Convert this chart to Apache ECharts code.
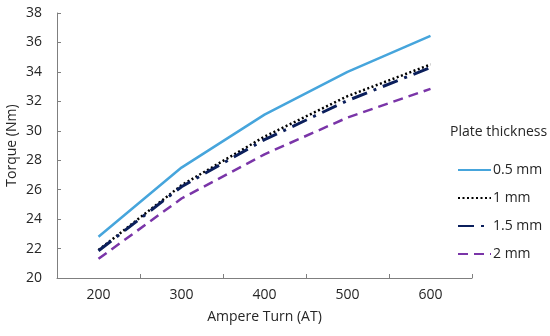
<!DOCTYPE html>
<html><head><meta charset="utf-8">
<script src="https://cdn.jsdelivr.net/npm/echarts@6/dist/echarts.min.js"></script>
<style>html,body{margin:0;padding:0;background:#fff}#c{width:550px;height:336px}</style>
</head><body><div id="c"></div>
<script>
var categories = ['200', '300', '400', '500', '600'];
var s05 = [22.8, 27.5, 31.1, 34.0, 36.45];
var s1 = [21.9, 26.3, 29.6, 32.35, 34.5];
var s15 = [21.85, 26.2, 29.4, 32.05, 34.3];
var s2 = [21.3, 25.4, 28.4, 30.9, 32.85];
var names = ['0.5 mm', '1 mm', '1.5 mm', '2 mm'];
var yTicks = {min: 20, max: 38, interval: 2};

var font = '"Open Sans", "Liberation Sans", sans-serif';
var axisCol = '#7f7f7f';
var txt = '#262626';
var chart = echarts.init(document.getElementById('c'));
function ser(name, data, color, width, dash) {
  return {name: name, type: 'line', data: data, symbol: 'none', smooth: false,
    lineStyle: {color: color, width: width, type: dash, cap: 'butt'}, itemStyle: {color: color}};
}
chart.setOption({
  animation: false,
  title: {text: 'Plate thickness', left: 445, top: 120,
    textStyle: {fontFamily: font, fontSize: 14, fontWeight: 'normal', color: txt}},
  legend: {orient: 'vertical', left: 452, top: 158, itemGap: 14, itemWidth: 33, itemHeight: 14,
    itemStyle: {opacity: 0},
    textStyle: {fontFamily: font, fontSize: 14, color: txt, padding: [0, 0, 0, -3]},
    data: names},
  grid: {left: 57, right: 78, top: 13, bottom: 58, containLabel: false, outerBoundsMode: 'none'},
  xAxis: {type: 'category', data: categories, boundaryGap: true,
    name: 'Ampere Turn (AT)', nameLocation: 'middle', nameGap: 32,
    nameTextStyle: {fontFamily: font, fontSize: 14, color: txt},
    axisLine: {lineStyle: {color: axisCol, width: 1}},
    axisTick: {show: true, inside: true, length: 4, alignWithLabel: false, lineStyle: {color: axisCol}},
    axisLabel: {fontFamily: font, fontSize: 14, color: txt, margin: 10},
    splitLine: {show: false}},
  yAxis: {type: 'value', min: yTicks.min, max: yTicks.max, interval: yTicks.interval,
    name: 'Torque (Nm)', nameLocation: 'middle', nameGap: 38, nameRotate: 90,
    nameMoveOverlap: false,
    nameTextStyle: {fontFamily: font, fontSize: 14, color: txt},
    axisLine: {show: true, lineStyle: {color: axisCol, width: 1}},
    axisTick: {show: true, inside: true, length: 4, lineStyle: {color: axisCol}},
    axisLabel: {fontFamily: font, fontSize: 14, color: txt, margin: 15},
    splitLine: {show: false}},
  series: [
    ser(names[0], s05, '#46a5dc', 2.5, 'solid'),
    ser(names[1], s1, '#000000', 2.5, [2, 2.5]),
    ser(names[2], s15, '#0b1f5c', 3, [16, 7, 3, 7]),
    ser(names[3], s2, '#7a35a8', 2.5, [10, 6])
  ]
});
</script></body></html>
